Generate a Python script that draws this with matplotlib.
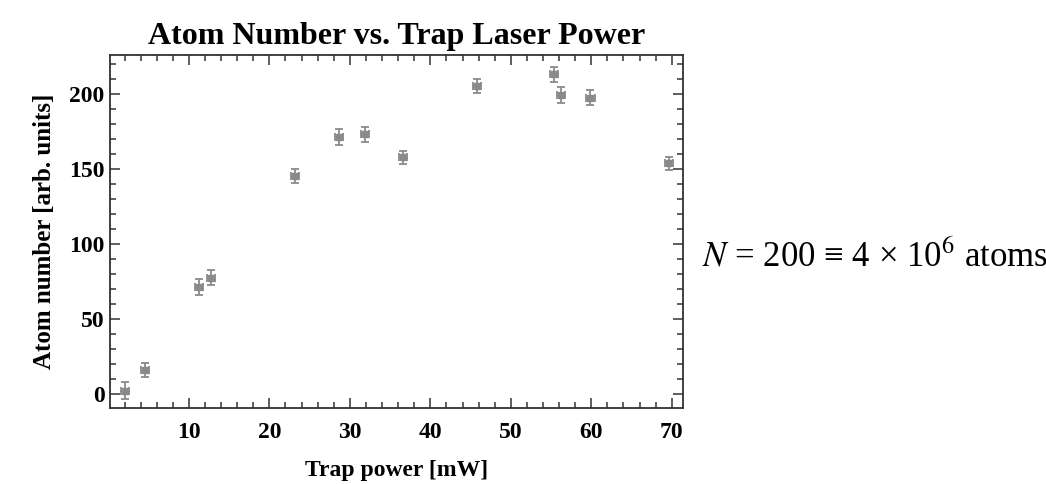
import numpy as np
import matplotlib
matplotlib.use("Agg")
import matplotlib.pyplot as plt
from matplotlib.ticker import MultipleLocator

# trap power [mW] and atom number [arb. units]
power = [2.0, 4.6, 11.2, 12.7, 23.2, 28.6, 31.9, 36.6, 45.8, 55.4, 56.2, 59.9, 69.6]
atoms = [2.4, 16.2, 71.7, 77.7, 145.5, 171.7, 173.5, 158.0, 205.5, 213.5, 199.5, 197.7, 154.0]
power_err = [0.5] * 13
atoms_err = [5.5, 4.5, 5.2, 5.0, 4.5, 5.5, 5.0, 4.5, 4.5, 5.0, 5.5, 5.0, 4.5]

plt.rcParams["font.family"] = ["Liberation Serif", "DejaVu Serif"]
plt.rcParams["mathtext.fontset"] = "stix"

fig = plt.figure(figsize=(10.46, 4.84), dpi=100)
ax = fig.add_axes([0.1052, 0.1564, 0.5478, 0.7306])

ax.errorbar(power, atoms, xerr=power_err, yerr=atoms_err, fmt="s", color="#8a8a8a",
            markersize=5, elinewidth=1.3, capsize=3, capthick=1.3)

ax.set_xlim(0.2, 71.4)
ax.set_ylim(-9.3, 226.4)
ax.xaxis.set_major_locator(MultipleLocator(10))
ax.xaxis.set_minor_locator(MultipleLocator(2))
ax.yaxis.set_major_locator(MultipleLocator(50))
ax.yaxis.set_minor_locator(MultipleLocator(10))
ax.tick_params(which="both", direction="in", top=True, right=True, color="#333333", width=1.1)
ax.tick_params(which="major", length=7, labelsize=17)
ax.tick_params(axis="x", which="major", pad=10)
ax.tick_params(axis="y", which="major", pad=4)
ax.tick_params(which="minor", length=4)
for lab in ax.get_xticklabels() + ax.get_yticklabels():
    lab.set_fontweight("bold")
for s in ax.spines.values():
    s.set_linewidth(1.3)
    s.set_color("#333333")

ax.set_title("Atom Number vs. Trap Laser Power", fontsize=23, fontweight="bold", pad=8)
ax.set_xlabel("Trap power [mW]", fontsize=17, fontweight="bold", labelpad=12)
ax.set_ylabel("Atom number [arb. units]", fontsize=18, fontweight="bold", labelpad=9)

fig.text(0.671, 0.450, "$N$ = 200 \u2261 4 \u00d7 10$^{6}$ atoms", fontsize=25,
         ha="left", va="baseline")

fig.savefig("out.png", dpi=100)
